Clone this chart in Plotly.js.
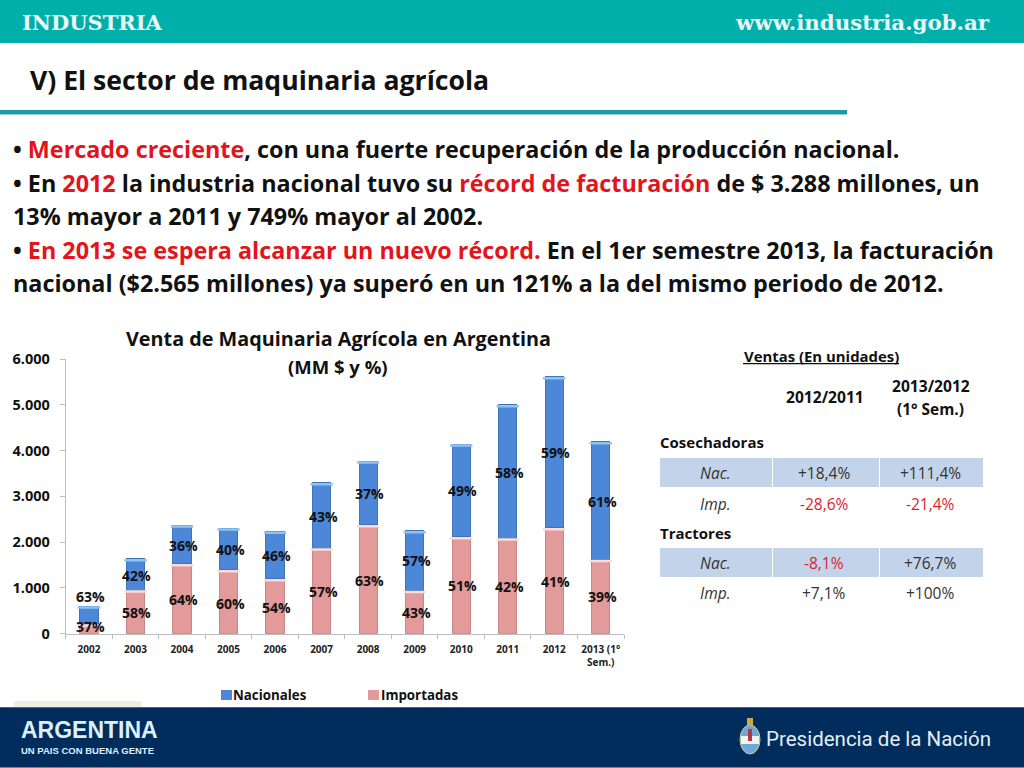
<!DOCTYPE html>
<html>
<head>
<meta charset="utf-8">
<script src="https://cdn.plot.ly/plotly-3.0.1.min.js"></script>
<style>html,body{margin:0;padding:0;background:#fff}#c{width:1024px;height:768px}</style>
</head>
<body>
<div id="c"></div>
<script>
var categories = ['2002','2003','2004','2005','2006','2007','2008','2009','2010','2011','2012','2013 (1°<br>Sem.)'];
var importadas = [211,954,1529,1398,1201,1871,2380,946,2118,2089,2315,1623];
var nacionales = [393,684,844,910,1034,1427,1391,1304,2024,2911,3298,2570];
var pctNacionales = ['63%','42%','36%','40%','46%','43%','37%','57%','49%','58%','59%','61%'];
var pctImportadas = ['37%','58%','64%','60%','54%','57%','63%','43%','51%','42%','41%','39%'];
var labelHeightNac = [808,1281,1936,1842,1704,2570,3058,1594,3123,3531,3953,2897];
var labelHeightImp = [167,459,750,662,575,917,1172,466,1048,1034,1136,808];
var yTicks = [0,1000,2000,3000,4000,5000,6000];
var yTickLabels = ['0','1.000','2.000','3.000','4.000','5.000','6.000'];
var tableRows = [
  {y:473,label:'Nac.',a:'+18,4%',b:'+111,4%',ac:'#333',bc:'#333'},
  {y:504,label:'Imp.',a:'-28,6%',b:'-21,4%',ac:'#d8262c',bc:'#d8262c'},
  {y:563,label:'Nac.',a:'-8,1%',b:'+76,7%',ac:'#d8262c',bc:'#333'},
  {y:593,label:'Imp.',a:'+7,1%',b:'+100%',ac:'#333',bc:'#333'}
];

var W=1024,H=768,F='"Open Sans", sans-serif',RED='#e3141b',BLUE='#4c87d8',PINK='#e29a9a';
var px=function(x){return x/W;}, py=function(y){return 1-y/H;};
function T(x,y,text,size,o){o=o||{};return {xref:'paper',yref:'paper',x:px(x),y:py(y),text:text,showarrow:false,
  xanchor:o.a||'left',yanchor:'middle',align:o.a||'left',font:{family:o.f||F,size:size,color:o.c||'#111'}};}
function R(x0,y0,x1,y1,c){return {type:'rect',xref:'paper',yref:'paper',x0:px(x0),x1:px(x1),y0:py(y0),y1:py(y1),fillcolor:c,line:{width:0},layer:'below'};}
function red(s){return '<span style="color:'+RED+'">'+s+'</span>';}

var BODY=23.35;
var annotations=[
  T(20,23,'<b>INDUSTRIA</b>',21,{f:'"DejaVu Serif"',c:'#e9f7f6'}),
  T(992,23,'<b>www.industria.gob.ar</b>',21.3,{f:'"DejaVu Serif"',c:'#e9f7f6',a:'right'}),
  T(28,80,'<b>V) El sector de maquinaria agrícola</b>',26.6),
  T(11,149,'<b>• '+red('Mercado creciente')+', con una fuerte recuperación de la producción nacional.</b>',BODY),
  T(11,183,'<b>• En '+red('2012')+' la industria nacional tuvo su '+red('récord de facturación')+' de $ 3.288 millones, un</b>',BODY),
  T(11,216,'<b>13% mayor a 2011 y 749% mayor al 2002.</b>',BODY),
  T(11,250,'<b>• '+red('En 2013 se espera alcanzar un nuevo récord.')+' En el 1er semestre 2013, la facturación</b>',BODY),
  T(11,283,'<b>nacional ($2.565 millones) ya superó en un 121% a la del mismo periodo de 2012.</b>',BODY),
  T(338,338,'<b>Venta de Maquinaria Agrícola en Argentina</b>',19.8,{a:'center'}),
  T(338,366,'<b>(MM $ y %)</b>',18.5,{a:'center'}),
  T(821,356,'<b>Ventas (En unidades)</b>',14.9,{a:'center'}),
  T(825,397,'<b>2012/2011</b>',15.6,{a:'center'}),
  T(931,386,'<b>2013/2012</b>',15.6,{a:'center'}),
  T(930,409,'<b>(1° Sem.)</b>',15.4,{a:'center'}),
  T(658,442,'<b>Cosechadoras</b>',15),
  T(658,533,'<b>Tractores</b>',15),
  T(233-2,695,'<b>Nacionales</b>',13.3),
  T(381-2,695,'<b>Importadas</b>',13.3),
  T(19,730,'<b>ARGENTINA</b>',23,{f:'"Liberation Sans"',c:'#dcefff'}),
  T(19,750,'<b>UN PAIS CON BUENA GENTE</b>',9.5,{f:'"Liberation Sans"',c:'#dcefff'}),
  T(764,739,'Presidencia de la Nación',20.5,{f:'Roboto',c:'#e4edf5'})
];
tableRows.forEach(function(r){
  annotations.push(T(715,r.y,'<i>'+r.label+'</i>',15.5,{a:'center',c:'#333'}));
  annotations.push(T(824,r.y,r.a,15.5,{a:'center',c:r.ac}));
  annotations.push(T(930,r.y,r.b,15.5,{a:'center',c:r.bc}));
});
function addPct(texts,heights){
  texts.forEach(function(t,i){
    annotations.push({xref:'x',yref:'y',x:i,y:heights[i],text:'<b>'+t+'</b>',showarrow:false,
      xshift:1.5,yanchor:'middle',font:{family:F,size:14,color:'#111'}});
  });
}
addPct(pctNacionales,labelHeightNac);
addPct(pctImportadas,labelHeightImp);

var shapes=[
  R(0,0,1024,43,'#00afa9'),
  R(0,110,847,114.5,'#1b9c9f'),
  R(14,701,142,707,'#efeee6'),
  R(0,707,1024,767,'#002d5b'),
  R(0,707,1024,708,'#2f6f8f'),
  R(0,767,1024,768,'#5f87a8'),
  R(660,458,983,487,'#c3d4ea'),
  R(660,548,983,577,'#c3d4ea'),
  R(772,458,773,487,'#fff'),R(879,458,880,487,'#fff'),
  R(772,548,773,577,'#fff'),R(879,548,880,577,'#fff'),
  R(743,363,899,364.2,'#111'),
  R(221,690,232,700,BLUE),
  R(368,690,379,700,PINK)
];
var arms=[
  {type:'circle',xref:'paper',yref:'paper',x0:px(740),x1:px(760),y0:py(725),y1:py(754),fillcolor:'#6fa8d8',line:{color:'#d8c87a',width:1}},
  R(741,736,759,744,'#eef3f6'),
  R(747,718,753,726,'#c9a94a'),
  R(748,729,752,741,'#b03a3a')
];
arms.forEach(function(s){s.layer='above';shapes.push(s);});

var barCommon={type:'bar',x:categories,width:0.39};
var unitsPerPixel=6000/274.7;
var data=[
  Object.assign({},barCommon,{name:'Importadas',y:importadas,marker:{color:PINK,line:{color:'#c98686',width:1}}}),
  Object.assign({},barCommon,{name:'Nacionales',y:nacionales,marker:{color:BLUE,line:{color:'#3f74b8',width:1}}}),
  {type:'scatter',mode:'markers',x:categories,hoverinfo:'skip',
   y:importadas.map(function(v){return v-1.5*unitsPerPixel;}),
   marker:{symbol:'line-ew',size:16,line:{color:'#fbdcd9',width:2.5}}},
  {type:'scatter',mode:'markers',x:categories,hoverinfo:'skip',
   y:importadas.map(function(v,i){return v+nacionales[i]-1.5*unitsPerPixel;}),
   marker:{symbol:'line-ew',size:16,line:{color:'#8fc4f0',width:2.5}}}
];
var layout={
  width:W,height:H,margin:{l:0,r:0,t:0,b:0},paper_bgcolor:'#fff',plot_bgcolor:'rgba(0,0,0,0)',
  barmode:'stack',showlegend:false,
  font:{family:F,color:'#111'},
  xaxis:{domain:[px(65.7),px(624)],type:'category',range:[-0.5,11.5],tickson:'boundaries',ticks:'outside',ticklen:4,tickcolor:'#bdbdbd',
    showline:true,linecolor:'#bdbdbd',linewidth:1,showgrid:false,zeroline:false,fixedrange:true,ticklabelstandoff:6,
    tickangle:0,tickfont:{family:F,size:10,color:'#222',weight:700}},
  yaxis:{domain:[py(633.7),py(359)],range:[0,6000],tickvals:yTicks,ticktext:yTickLabels,ticks:'outside',ticklen:5,tickcolor:'#bdbdbd',
    showline:true,linecolor:'#bdbdbd',linewidth:1,showgrid:false,zeroline:false,fixedrange:true,ticklabelstandoff:7,
    tickfont:{family:F,size:14.5,color:'#111',weight:700}},
  shapes:shapes,annotations:annotations
};
Plotly.newPlot('c',data,layout,{displayModeBar:false,responsive:false});
</script>
</body>
</html>
